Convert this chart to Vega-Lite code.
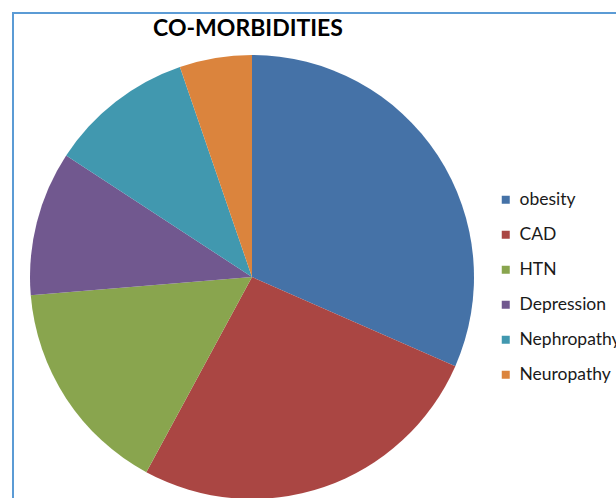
{
  "$schema": "https://vega.github.io/schema/vega-lite/v6.json",
  "autosize": "none",
  "width": 444,
  "height": 444,
  "padding": {"left": 30, "top": 55, "right": 142, "bottom": 0},
  "background": "white",
  "config": {
    "view": {"stroke": null},
    "font": "Lato"
  },
  "title": {
    "text": "CO-MORBIDITIES",
    "font": "Lato",
    "fontSize": 23,
    "fontWeight": "bold",
    "color": "#000000",
    "anchor": "middle",
    "frame": "group",
    "dx": -4,
    "offset": -29
  },
  "data": {
    "values": [
      {"condition": "obesity", "patients": 30, "rank": 1},
      {"condition": "CAD", "patients": 25, "rank": 2},
      {"condition": "HTN", "patients": 15, "rank": 3},
      {"condition": "Depression", "patients": 10, "rank": 4},
      {"condition": "Nephropathy", "patients": 10, "rank": 5},
      {"condition": "Neuropathy", "patients": 5, "rank": 6}
    ]
  },
  "layer": [
    {
      "mark": {"type": "rect", "fill": null, "stroke": "#5B9BD5", "strokeWidth": 2},
      "encoding": {
        "x": {"value": -17},
        "y": {"value": -42},
        "x2": {"value": 700},
        "y2": {"value": 600}
      }
    },
    {
      "mark": {"type": "arc", "outerRadius": 222},
      "encoding": {
        "theta": {"field": "patients", "type": "quantitative", "stack": true},
        "order": {"field": "rank", "type": "quantitative"},
        "color": {
          "field": "condition",
          "type": "nominal",
          "sort": ["obesity", "CAD", "HTN", "Depression", "Nephropathy", "Neuropathy"],
          "scale": {
            "domain": ["obesity", "CAD", "HTN", "Depression", "Nephropathy", "Neuropathy"],
            "range": ["#4572A7", "#AA4643", "#89A54E", "#71588F", "#4198AF", "#DB843D"]
          },
          "legend": {
            "title": null,
            "orient": "none",
            "legendX": 467,
            "legendY": 136,
            "symbolType": "square",
            "symbolSize": 64,
            "symbolStrokeWidth": 0,
            "symbolOpacity": 1,
            "labelFont": "Lato",
            "labelFontSize": 17.5,
            "labelColor": "#1a1a1a",
            "labelOffset": 5,
            "rowPadding": 16,
            "labelLimit": 300
          }
        }
      }
    }
  ]
}
